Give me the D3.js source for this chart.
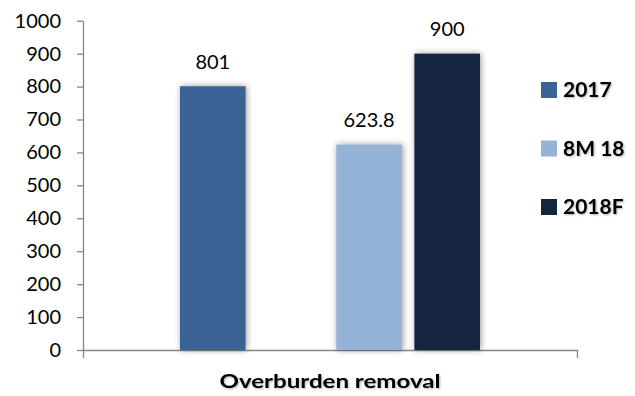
<!DOCTYPE html>
<html>
<head>
<meta charset="utf-8">
<script src="https://cdn.jsdelivr.net/npm/d3@7"></script>
<style>
  body { margin: 0; background: #fff; }
  svg { display: block; font-family: Lato, "Open Sans", sans-serif; }
  .axis path, .axis line { stroke: #868686; stroke-width: 1.3; }
  .axis text { font-size: 20px; fill: #000; font-family: Lato, sans-serif; }
</style>
</head>
<body>
<script>
// chart data
var categories = ["Overburden removal"];
var seriesNames = ["2017", "8M 18", "2018F"];
// slot order used by the chart (one empty slot between 2017 and 8M 18)
var slots = ["2017", "", "8M 18", "2018F"];
var seriesValues = [801, 623.8, 900];
var seriesColors = ["#3B6496", "#95B3D7", "#13253F"];
var yTicks = [0, 100, 200, 300, 400, 500, 600, 700, 800, 900, 1000];

var width = 635, height = 396;
var plotLeft = 83, plotRight = 577, plotTop = 20.7, plotBottom = 350;

var svg = d3.select("body").append("svg")
    .attr("width", width)
    .attr("height", height);

var defs = svg.append("defs");
defs.append("filter").attr("id", "barShadow")
    .attr("x", "-30%").attr("y", "-30%").attr("width", "160%").attr("height", "160%")
  .append("feDropShadow")
    .attr("dx", 1).attr("dy", 0).attr("stdDeviation", 3)
    .attr("flood-color", "#000").attr("flood-opacity", 0.4);
defs.append("filter").attr("id", "textShadow")
  .append("feDropShadow")
    .attr("dx", 1).attr("dy", 1).attr("stdDeviation", 0.8)
    .attr("flood-color", "#000").attr("flood-opacity", 0.3);

var y = d3.scaleLinear().domain([0, 1000]).range([plotBottom, plotTop]);

var x0 = d3.scaleBand().domain(categories).range([plotLeft, plotRight])
    .paddingInner(0.3927).paddingOuter(0.3927 / 2);
var x1 = d3.scaleBand().domain(slots).range([0, x0.bandwidth()])
    .paddingInner(0.16).paddingOuter(0);

// y axis
svg.append("g")
    .attr("class", "axis")
    .attr("transform", "translate(" + plotLeft + ",0)")
    .call(d3.axisLeft(y).tickValues(yTicks).tickFormat(d3.format("d"))
        .tickSize(6).tickSizeOuter(0).tickPadding(16));

// x axis
svg.append("g")
    .attr("class", "axis")
    .attr("transform", "translate(0," + plotBottom + ")")
    .call(d3.axisBottom(x0).tickSize(0).tickSizeOuter(8).tickFormat(""));

// bars
var group = svg.selectAll(".cat")
    .data(categories)
    .enter().append("g")
    .attr("transform", function(d) { return "translate(" + x0(d) + ",0)"; });

var barData = seriesNames.map(function(name, i) {
    return { name: name, value: seriesValues[i], color: seriesColors[i] };
});

group.selectAll("rect")
    .data(barData)
    .enter().append("rect")
    .attr("x", function(d) { return x1(d.name); })
    .attr("y", function(d) { return y(d.value); })
    .attr("width", x1.bandwidth())
    .attr("height", function(d) { return plotBottom - y(d.value); })
    .attr("fill", function(d) { return d.color; })
    .attr("filter", "url(#barShadow)");

group.selectAll(".val")
    .data(barData)
    .enter().append("text")
    .attr("class", "val")
    .attr("x", function(d) { return x1(d.name) + x1.bandwidth() / 2; })
    .attr("y", function(d) { return y(d.value) - 17.5; })
    .attr("text-anchor", "middle")
    .style("font-size", "20px")
    .text(function(d) { return d.value; });

// axis title
svg.append("text")
    .attr("x", (plotLeft + plotRight) / 2)
    .attr("y", 388)
    .attr("text-anchor", "middle")
    .attr("textLength", 221)
    .attr("lengthAdjust", "spacingAndGlyphs")
    .style("font-size", "19px")
    .style("font-weight", "bold")
    .attr("filter", "url(#textShadow)")
    .text(categories[0]);

// legend
var legend = svg.selectAll(".legend")
    .data(barData)
    .enter().append("g")
    .attr("transform", function(d, i) { return "translate(541," + (82 + i * 58.5) + ")"; });

legend.append("rect")
    .attr("width", 16).attr("height", 16)
    .attr("fill", function(d) { return d.color; });

legend.append("text")
    .attr("x", 22).attr("y", 15)
    .style("font-size", "21px")
    .style("font-weight", "bold")
    .attr("filter", "url(#textShadow)")
    .text(function(d) { return d.name; });
</script>
</body>
</html>
